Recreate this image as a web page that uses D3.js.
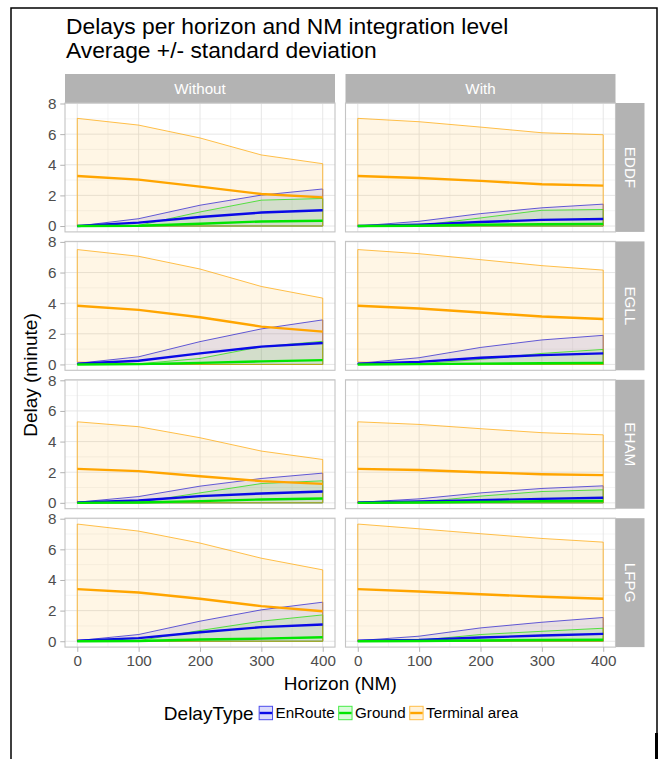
<!DOCTYPE html>
<html>
<head>
<meta charset="utf-8">
<script src="https://cdn.jsdelivr.net/npm/d3@7"></script>
<style>
body { margin: 0; background: #fff; }
svg { display: block; font-family: "Liberation Sans", Arial, sans-serif; }
</style>
</head>
<body>
<svg width="662" height="759"></svg>
<script>
// data
var horizons = [0, 100, 200, 300, 400];
var airports = ["EDDF", "EGLL", "EHAM", "LFPG"];
var levels = ["Without", "With"];
var delayTypes = ["EnRoute", "Ground", "Terminal area"];
var typeColors = ["#0a0ae6", "#00e600", "#ffa500"];
var xTicks = [0, 100, 200, 300, 400];
var yTicks = [0, 2, 4, 6, 8];

// one row per panel: EDDF Without, EDDF With, EGLL Without, EGLL With, ...
var enrouteMean = [
  [0, 0.22, 0.59, 0.88, 1.03],
  [0, 0.09, 0.26, 0.40, 0.46],
  [0.05, 0.24, 0.72, 1.16, 1.40],
  [0.05, 0.17, 0.44, 0.61, 0.72],
  [0.03, 0.15, 0.44, 0.61, 0.74],
  [0.02, 0.09, 0.17, 0.26, 0.33],
  [0.03, 0.20, 0.59, 0.92, 1.09],
  [0.03, 0.09, 0.24, 0.37, 0.48]
];
var enrouteSd = [
  [0, 0.26, 0.77, 1.14, 1.39],
  [0, 0.22, 0.55, 0.79, 0.97],
  [0.02, 0.26, 0.77, 1.16, 1.51],
  [0.02, 0.27, 0.67, 0.99, 1.18],
  [0.01, 0.26, 0.65, 0.98, 1.20],
  [0.01, 0.17, 0.48, 0.68, 0.78],
  [0.01, 0.24, 0.72, 1.13, 1.46],
  [0.01, 0.24, 0.63, 0.87, 1.07]
];
var groundMean = [
  [0, 0.02, 0.15, 0.30, 0.35],
  [0, 0.02, 0.08, 0.12, 0.14],
  [0, 0.02, 0.10, 0.20, 0.28],
  [0, 0.02, 0.05, 0.08, 0.10],
  [0, 0.02, 0.11, 0.22, 0.28],
  [0, 0.02, 0.06, 0.10, 0.12],
  [0, 0.02, 0.11, 0.17, 0.26],
  [0, 0.02, 0.05, 0.08, 0.10]
];
var groundSd = [
  [0, 0.02, 0.77, 1.39, 1.45],
  [0, 0.02, 0.45, 0.91, 0.94],
  [0, 0.02, 0.29, 0.96, 1.23],
  [0, 0.02, 0.28, 0.64, 0.88],
  [0, 0.02, 0.54, 1.04, 1.16],
  [0, 0.02, 0.38, 0.64, 0.73],
  [0, 0.02, 0.59, 1.14, 1.46],
  [0, 0.04, 0.39, 0.57, 0.75]
];
var terminalMean = [
  [3.27, 3.03, 2.57, 2.09, 1.87],
  [3.27, 3.14, 2.95, 2.73, 2.64],
  [3.83, 3.56, 3.08, 2.47, 2.14],
  [3.83, 3.65, 3.39, 3.13, 2.97],
  [2.22, 2.07, 1.74, 1.42, 1.24],
  [2.22, 2.14, 2.00, 1.87, 1.81],
  [3.40, 3.18, 2.77, 2.29, 1.96],
  [3.40, 3.25, 3.07, 2.90, 2.77]
];
var terminalSd = [
  [3.76, 3.56, 3.18, 2.55, 2.20],
  [3.76, 3.67, 3.51, 3.36, 3.32],
  [3.67, 3.50, 3.15, 2.62, 2.19],
  [3.67, 3.58, 3.45, 3.32, 3.19],
  [3.07, 2.90, 2.51, 1.96, 1.59],
  [3.07, 2.98, 2.84, 2.71, 2.63],
  [4.25, 4.01, 3.64, 3.13, 2.70],
  [4.25, 4.09, 3.95, 3.81, 3.70]
];

var means = [enrouteMean, groundMean, terminalMean];
var sds = [enrouteSd, groundSd, terminalSd];

// layout
var svg = d3.select("svg");
var panelW = 270, panelH = 128.9, rowGap = 9.5, stripSize = 29;
var colLeft = [65, 345.5];
var rowTop0 = 103;
var tickLen = 4.75, tickPad = 3.8;
var gridCol = "#e3e3e3", borderCol = "#c4c4c4", stripCol = "#b3b3b3", textCol = "#4d4d4d";

// outer frame
svg.append("path")
  .attr("d", "M11,759 V8 H657 V759")
  .attr("fill", "none")
  .attr("stroke", "#000")
  .attr("stroke-width", 1.5);
svg.append("rect").attr("x", 655).attr("y", 733).attr("width", 3).attr("height", 26).attr("fill", "#000");

// build the panel data
var panels = [];
airports.forEach(function(a, ai) {
  levels.forEach(function(l, li) {
    var k = ai * 2 + li;
    var series = delayTypes.map(function(t, ti) {
      return horizons.map(function(h, i) {
        var m = means[ti][k][i], s = sds[ti][k][i];
        return {h: h, mean: m, lo: Math.max(0, m - s), hi: m + s};
      });
    });
    panels.push({airport: a, level: l, row: ai, col: li, series: series});
  });
});

// scales
var xScale = d3.scaleLinear()
  .domain([-20, 420])
  .range([0, panelW]);

var yLo = d3.min(panels, function(p) { return d3.min(p.series, function(s) { return d3.min(s, function(d) { return d.lo; }); }); });
var yHi = d3.max(panels, function(p) { return d3.max(p.series, function(s) { return d3.max(s, function(d) { return d.hi; }); }); });
var yPad = 0.05 * (yHi - yLo);
var yScale = d3.scaleLinear()
  .domain([yLo - yPad, yHi + yPad])
  .range([panelH, 0]);

var area = d3.area()
  .x(function(d) { return xScale(d.h); })
  .y0(function(d) { return yScale(d.lo); })
  .y1(function(d) { return yScale(d.hi); });
var line = d3.line()
  .x(function(d) { return xScale(d.h); })
  .y(function(d) { return yScale(d.mean); });

function rowTop(r) { return rowTop0 + r * (panelH + rowGap); }

// top strips
levels.forEach(function(l, li) {
  var g = svg.append("g").attr("transform", "translate(" + colLeft[li] + "," + (rowTop0 - stripSize) + ")");
  g.append("rect").attr("width", panelW).attr("height", stripSize).attr("fill", stripCol);
  g.append("text")
    .attr("x", panelW / 2).attr("y", stripSize / 2)
    .attr("dy", "0.35em")
    .attr("text-anchor", "middle")
    .attr("fill", "#fff")
    .style("font-size", "15.2px")
    .text(l);
});

// right strips
airports.forEach(function(a, ai) {
  var g = svg.append("g").attr("transform", "translate(" + (colLeft[1] + panelW) + "," + rowTop(ai) + ")");
  g.append("rect").attr("width", stripSize).attr("height", panelH).attr("fill", stripCol);
  g.append("text")
    .attr("transform", "translate(" + (stripSize / 2) + "," + (panelH / 2) + ") rotate(90)")
    .attr("dy", "0.35em")
    .attr("text-anchor", "middle")
    .attr("fill", "#fff")
    .style("font-size", "15.2px")
    .text(a);
});

// panels
panels.forEach(function(p) {
  var g = svg.append("g")
    .attr("transform", "translate(" + colLeft[p.col] + "," + rowTop(p.row) + ")");

  // grid
  var xMinor = [50, 150, 250, 350], yMinor = [1, 3, 5, 7];
  g.selectAll(".xminor").data(xMinor).enter().append("line")
    .attr("x1", xScale).attr("x2", xScale).attr("y1", 0).attr("y2", panelH)
    .attr("stroke", "#efefef").attr("stroke-width", 0.6);
  g.selectAll(".yminor").data(yMinor).enter().append("line")
    .attr("y1", yScale).attr("y2", yScale).attr("x1", 0).attr("x2", panelW)
    .attr("stroke", "#efefef").attr("stroke-width", 0.6);
  g.selectAll(".xmajor").data(xTicks).enter().append("line")
    .attr("x1", xScale).attr("x2", xScale).attr("y1", 0).attr("y2", panelH)
    .attr("stroke", gridCol).attr("stroke-width", 0.9);
  g.selectAll(".ymajor").data(yTicks).enter().append("line")
    .attr("y1", yScale).attr("y2", yScale).attr("x1", 0).attr("x2", panelW)
    .attr("stroke", gridCol).attr("stroke-width", 0.9);

  // ribbons
  p.series.forEach(function(s, ti) {
    g.append("path")
      .datum(s)
      .attr("d", function(d) { return area(d) + "Z"; })
      .attr("fill", typeColors[ti])
      .attr("fill-opacity", 0.1)
      .attr("stroke", typeColors[ti])
      .attr("stroke-opacity", 0.7)
      .attr("stroke-width", 1);
  });
  // mean lines
  p.series.forEach(function(s, ti) {
    g.append("path")
      .datum(s)
      .attr("d", line)
      .attr("fill", "none")
      .attr("stroke", typeColors[ti])
      .attr("stroke-width", 2.4);
  });

  // border
  g.append("rect")
    .attr("width", panelW).attr("height", panelH)
    .attr("fill", "none").attr("stroke", borderCol).attr("stroke-width", 1.1);

  // axes
  if (p.col === 0) {
    var gy = g.append("g")
      .call(d3.axisLeft(yScale).tickValues(yTicks).tickSize(tickLen).tickPadding(tickPad));
    gy.select(".domain").remove();
    gy.selectAll("line").attr("stroke", stripCol);
    gy.selectAll("text").attr("fill", textCol).style("font-size", "15.2px").style("font-family", "Liberation Sans, Arial, sans-serif");
  }
  if (p.row === airports.length - 1) {
    var gx = g.append("g")
      .attr("transform", "translate(0," + panelH + ")")
      .call(d3.axisBottom(xScale).tickValues(xTicks).tickSize(tickLen).tickPadding(tickPad));
    gx.select(".domain").remove();
    gx.selectAll("line").attr("stroke", stripCol);
    gx.selectAll("text").attr("fill", textCol).style("font-size", "15.2px").style("font-family", "Liberation Sans, Arial, sans-serif");
  }
});

// titles
svg.append("text").attr("x", 66).attr("y", 34).style("font-size", "22.8px").attr("fill", "#000")
  .text("Delays per horizon and NM integration level");
svg.append("text").attr("x", 66).attr("y", 58).style("font-size", "22.8px").attr("fill", "#000")
  .text("Average +/- standard deviation");

var panelsMidX = (colLeft[0] + colLeft[1] + panelW) / 2;
svg.append("text")
  .attr("x", panelsMidX).attr("y", 690)
  .attr("text-anchor", "middle")
  .style("font-size", "19px")
  .text("Horizon (NM)");
svg.append("text")
  .attr("transform", "translate(37," + (rowTop0 + (rowTop(3) + panelH - rowTop0) / 2) + ") rotate(-90)")
  .attr("text-anchor", "middle")
  .style("font-size", "19px")
  .text("Delay (minute)");

// legend
var legend = svg.append("g").attr("transform", "translate(0,713)");
var legTitle = legend.append("text")
  .attr("y", 0).attr("dy", "0.35em")
  .style("font-size", "19px")
  .text("DelayType");
var keySize = 14.4;
var cursor = legTitle.node().getComputedTextLength() + 5;
var items = [];
delayTypes.forEach(function(t, ti) {
  var kg = legend.append("g").attr("transform", "translate(" + cursor + "," + (-keySize / 2) + ")");
  kg.append("rect")
    .attr("x", 0.5).attr("y", 0.5).attr("width", keySize - 1).attr("height", keySize - 1)
    .attr("fill", typeColors[ti]).attr("fill-opacity", 0.15)
    .attr("stroke", typeColors[ti]).attr("stroke-opacity", 0.7);
  kg.append("line")
    .attr("x1", 1).attr("x2", keySize - 1).attr("y1", keySize / 2).attr("y2", keySize / 2)
    .attr("stroke", typeColors[ti]).attr("stroke-width", 2.4);
  cursor += keySize + 2.5;
  var lt = legend.append("text")
    .attr("x", cursor).attr("dy", "0.35em")
    .style("font-size", "15.2px")
    .text(t);
  cursor += lt.node().getComputedTextLength() + 3.5;
});
legend.attr("transform", "translate(" + (341 - (cursor - 3.5) / 2) + ",713)");
</script>
</body>
</html>
